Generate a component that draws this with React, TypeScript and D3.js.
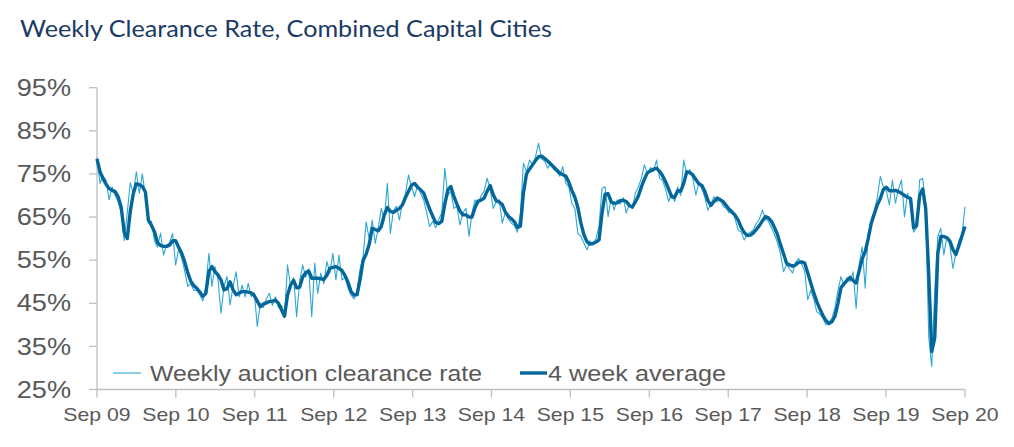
import React from 'react';
import * as d3 from 'd3';

// fortnightly readings, first one in early Sep 2009
const firstDate = '2009-09-01';
const stepDays = 14;

const yTicks = [25, 35, 45, 55, 65, 75, 85, 95];
const xTickLabels = ['Sep 09', 'Sep 10', 'Sep 11', 'Sep 12', 'Sep 13', 'Sep 14', 'Sep 15', 'Sep 16', 'Sep 17', 'Sep 18', 'Sep 19', 'Sep 20'];
const xTickYears = [2009, 2010, 2011, 2012, 2013, 2014, 2015, 2016, 2017, 2018, 2019, 2020];

const weeklyRate = [
  78.8, 72.8, 74.5, 73.6, 69.0, 72.0, 70.0, 68.5, 66.0, 59.5,
  66.0, 73.0, 70.5, 75.5, 70.5, 75.0, 70.0, 63.6, 64.0, 59.5,
  58.0, 61.3, 56.2, 58.5, 59.0, 61.2, 53.9, 57.5, 55.5, 52.5,
  48.9, 49.5, 48.0, 48.0, 47.0, 45.5, 49.0, 56.6, 48.9, 53.5,
  50.5, 42.7, 49.0, 51.2, 44.6, 49.0, 52.3, 46.5, 49.2, 46.5,
  49.6, 46.5, 47.5, 39.6, 45.0, 44.0, 46.0, 47.3, 44.5, 46.5,
  44.0, 44.5, 41.9, 53.9, 49.0, 51.0, 41.9, 50.0, 53.9, 51.0,
  53.0, 41.9, 54.3, 47.3, 52.0, 49.5, 54.7, 52.0, 56.6, 50.4,
  56.2, 50.4, 51.0, 48.5, 46.9, 46.0, 48.0, 53.0, 56.0, 63.9,
  60.0, 64.3, 58.9, 62.5, 67.0, 64.5, 72.8, 61.2, 66.5, 67.5,
  64.3, 68.5, 70.5, 74.8, 72.0, 69.7, 72.5, 70.5, 69.0, 66.0,
  62.8, 64.0, 62.5, 64.5, 66.0, 76.3, 70.0, 71.0, 67.0, 67.5,
  63.2, 66.0, 67.0, 60.5, 66.0, 69.0, 68.0, 70.0, 71.0, 74.0,
  71.5, 67.0, 68.5, 69.0, 63.6, 66.0, 64.5, 63.6, 63.0, 61.5,
  66.0, 77.5, 75.5, 78.2, 77.0, 79.0, 82.1, 78.5, 78.0, 76.3,
  77.5, 76.0, 75.5, 74.5, 76.7, 72.8, 72.0, 68.2, 67.0, 61.2,
  60.5, 59.0, 57.4, 59.5, 58.5, 60.0, 63.0, 71.7, 72.0, 65.1,
  69.5, 66.6, 69.0, 68.0, 69.5, 65.9, 68.0, 67.0, 70.5, 72.0,
  74.0, 77.1, 75.0, 76.5, 75.5, 78.2, 74.0, 73.5, 71.5, 68.6,
  70.5, 68.6, 72.0, 70.0, 78.2, 75.0, 76.0, 74.0, 70.1, 73.0,
  71.5, 69.5, 66.6, 68.0, 69.7, 68.5, 69.5, 67.5, 67.0, 66.0,
  66.6, 64.5, 62.0, 61.5, 59.7, 61.0, 61.5, 62.0, 63.5, 64.5,
  66.6, 64.5, 64.0, 62.5, 61.0, 59.0, 56.5, 52.3, 54.0, 53.0,
  52.0, 54.5, 55.4, 54.0, 52.5, 45.8, 48.0, 46.0, 43.0, 42.5,
  41.5, 40.0, 40.5, 41.5, 44.0, 48.0, 51.2, 49.0, 51.0, 50.0,
  52.3, 43.8, 54.0, 58.1, 48.5, 61.0, 64.5, 66.5, 69.5, 74.4,
  72.0, 71.0, 67.8, 73.6, 68.2, 71.5, 73.6, 65.1, 70.5, 68.0,
  61.5, 62.5, 73.6, 74.0, 68.0, 37.3, 30.3, 48.0, 60.5, 62.4,
  56.2, 60.5, 58.5, 53.1, 56.5, 59.5, 61.0, 67.4,
];

const fourWeekAvg = [
  78.5, 75.5, 73.9, 72.6, 71.6, 71.2, 70.9, 69.7, 67.3, 61.5,
  60.0, 66.3, 70.4, 72.7, 72.5, 72.1, 70.8, 64.3, 63.1, 61.6,
  59.1, 58.4, 58.2, 58.2, 58.5, 59.5, 59.5, 58.0, 56.6, 54.6,
  52.1, 50.1, 49.1, 48.5, 47.6, 46.6, 47.3, 52.4, 53.5, 52.3,
  51.6, 50.4, 48.1, 48.4, 50.0, 48.1, 47.0, 47.4, 47.7, 47.7,
  47.6, 47.4, 46.8, 45.5, 44.2, 44.8, 45.1, 45.4, 45.5, 45.7,
  45.0, 43.5, 42.0, 46.9, 49.2, 50.3, 48.6, 48.7, 51.1, 52.1,
  52.5, 50.8, 50.8, 50.8, 50.7, 50.5, 51.5, 53.1, 53.3, 53.5,
  53.1, 52.6, 51.4, 49.9, 47.7, 46.9, 47.0, 50.6, 54.9, 56.4,
  58.7, 62.4, 62.1, 61.8, 62.8, 65.5, 67.2, 66.3, 66.1, 66.6,
  67.0, 67.8, 69.5, 71.0, 72.4, 72.8, 71.9, 71.3, 70.6, 68.7,
  66.8, 65.2, 63.7, 63.5, 64.0, 68.0, 71.3, 72.1, 69.8, 68.0,
  66.4, 65.5, 65.5, 65.0, 65.0, 67.2, 68.7, 68.9, 69.4, 71.0,
  72.3, 70.2, 68.8, 68.5, 67.9, 66.2, 65.2, 64.6, 63.9, 62.6,
  62.9, 70.6, 75.0, 76.1, 77.1, 78.1, 79.0, 79.1, 78.6, 78.0,
  77.3, 76.6, 75.9, 75.2, 74.8, 74.5, 73.1, 71.2, 69.6, 67.2,
  63.6, 60.9, 59.3, 58.7, 58.9, 59.2, 59.7, 66.0, 70.3, 70.4,
  68.5, 68.2, 68.3, 68.8, 68.9, 68.6, 67.7, 67.3, 68.5, 69.9,
  72.0, 73.8, 75.3, 75.7, 76.1, 76.3, 75.6, 74.6, 73.2, 71.5,
  69.7, 69.6, 71.1, 71.0, 72.8, 75.5, 75.3, 74.8, 73.7, 72.7,
  72.3, 70.9, 68.8, 67.7, 68.6, 69.4, 69.0, 68.6, 67.7, 66.8,
  66.1, 65.4, 64.3, 62.6, 61.4, 60.7, 60.8, 61.3, 62.1, 63.0,
  64.1, 65.1, 64.8, 64.0, 62.6, 60.9, 58.6, 56.5, 54.3, 53.9,
  53.6, 53.9, 54.5, 54.6, 54.3, 52.1, 49.7, 47.4, 45.4, 43.7,
  42.2, 41.0, 40.3, 40.7, 42.0, 45.0, 48.6, 49.5, 50.3, 51.0,
  50.3, 49.7, 52.5, 55.3, 57.0, 60.0, 63.5, 65.7, 67.8, 69.3,
  71.4, 71.9, 71.1, 71.1, 71.2, 70.9, 70.5, 70.0, 69.6, 69.3,
  62.5, 63.0, 70.0, 71.5, 67.0, 52.0, 33.8, 37.0, 56.5, 60.5,
  60.5, 60.2, 59.4, 57.5, 56.3, 58.4, 60.6, 62.8,
];

const W = 1014;
const H = 447;
const plot = { left: 97, right: 965, top: 87.7, bottom: 389.5 };
const grey = '#595959';
const axisGrey = '#bfbfbf';
const rawColor = '#2ea7d6';
const avgColor = '#04679a';
const stretch = 1.18; // the source text is drawn wider than Arial

const start = d3.timeParse('%Y-%m-%d')(firstDate) as Date;
const dates = weeklyRate.map((_, i) => d3.timeDay.offset(start, i * stepDays));

const x = d3
  .scaleTime()
  .domain([new Date(2009, 8, 1), new Date(2020, 8, 1)])
  .range([plot.left, plot.right]);

const y = d3.scaleLinear().domain([25, 95]).range([plot.bottom, plot.top]);

const line = d3
  .line<number>()
  .x((_, i) => x(dates[i]))
  .y((d) => y(d));

const App = () => {
  const font = 'Arial, "Liberation Sans", sans-serif';
  return (
    <svg
      width={W}
      height={H}
      style={{ position: 'absolute', left: 0, top: 0, background: '#fff' }}
      fontFamily={font}
    >
      <text
        x={20}
        y={37}
        fontFamily='Lato, "Open Sans", sans-serif'
        fontSize={23}
        fill="#1b3a66"
        textLength={532}
        lengthAdjust="spacingAndGlyphs"
      >
        Weekly Clearance Rate, Combined Capital Cities
      </text>

      {/* y axis */}
      <line x1={plot.left} x2={plot.left} y1={plot.top} y2={plot.bottom} stroke={axisGrey} strokeWidth={1.3} />
      {yTicks.map((t) => (
        <g key={t}>
          <line x1={plot.left - 8} x2={plot.left} y1={y(t)} y2={y(t)} stroke={axisGrey} strokeWidth={1.3} />
          <text
            transform={`translate(71,${y(t) + 8.2}) scale(${stretch},1)`}
            textAnchor="end"
            fontSize={23}
            fill={grey}
          >
            {t}%
          </text>
        </g>
      ))}

      {/* x axis */}
      <line x1={plot.left} x2={plot.right} y1={plot.bottom} y2={plot.bottom} stroke={axisGrey} strokeWidth={1.3} />
      {xTickYears.map((yr, i) => {
        const px = x(new Date(yr, 8, 1));
        return (
          <g key={yr}>
            <line x1={px} x2={px} y1={plot.bottom} y2={plot.bottom + 8} stroke={axisGrey} strokeWidth={1.3} />
            <text
              transform={`translate(${px},420.5) scale(${stretch},1)`}
              textAnchor="middle"
              fontSize={18}
              fill={grey}
            >
              {xTickLabels[i]}
            </text>
          </g>
        );
      })}

      {/* series */}
      <path d={line(weeklyRate) ?? ''} fill="none" stroke={rawColor} strokeWidth={1.1} strokeLinejoin="round" />
      <path d={line(fourWeekAvg) ?? ''} fill="none" stroke={avgColor} strokeWidth={3.4} strokeLinejoin="round" />

      {/* legend */}
      <line x1={113} x2={141} y1={373} y2={373} stroke="#7fcbe2" strokeWidth={1.8} />
      <text x={150} y={381} fontSize={21.5} fill={grey} textLength={332} lengthAdjust="spacingAndGlyphs">
        Weekly auction clearance rate
      </text>
      <line x1={520} x2={547} y1={373} y2={373} stroke={avgColor} strokeWidth={3.4} />
      <text x={548} y={381} fontSize={21.5} fill={grey} textLength={178} lengthAdjust="spacingAndGlyphs">
        4 week average
      </text>
    </svg>
  );
};

export default App;
